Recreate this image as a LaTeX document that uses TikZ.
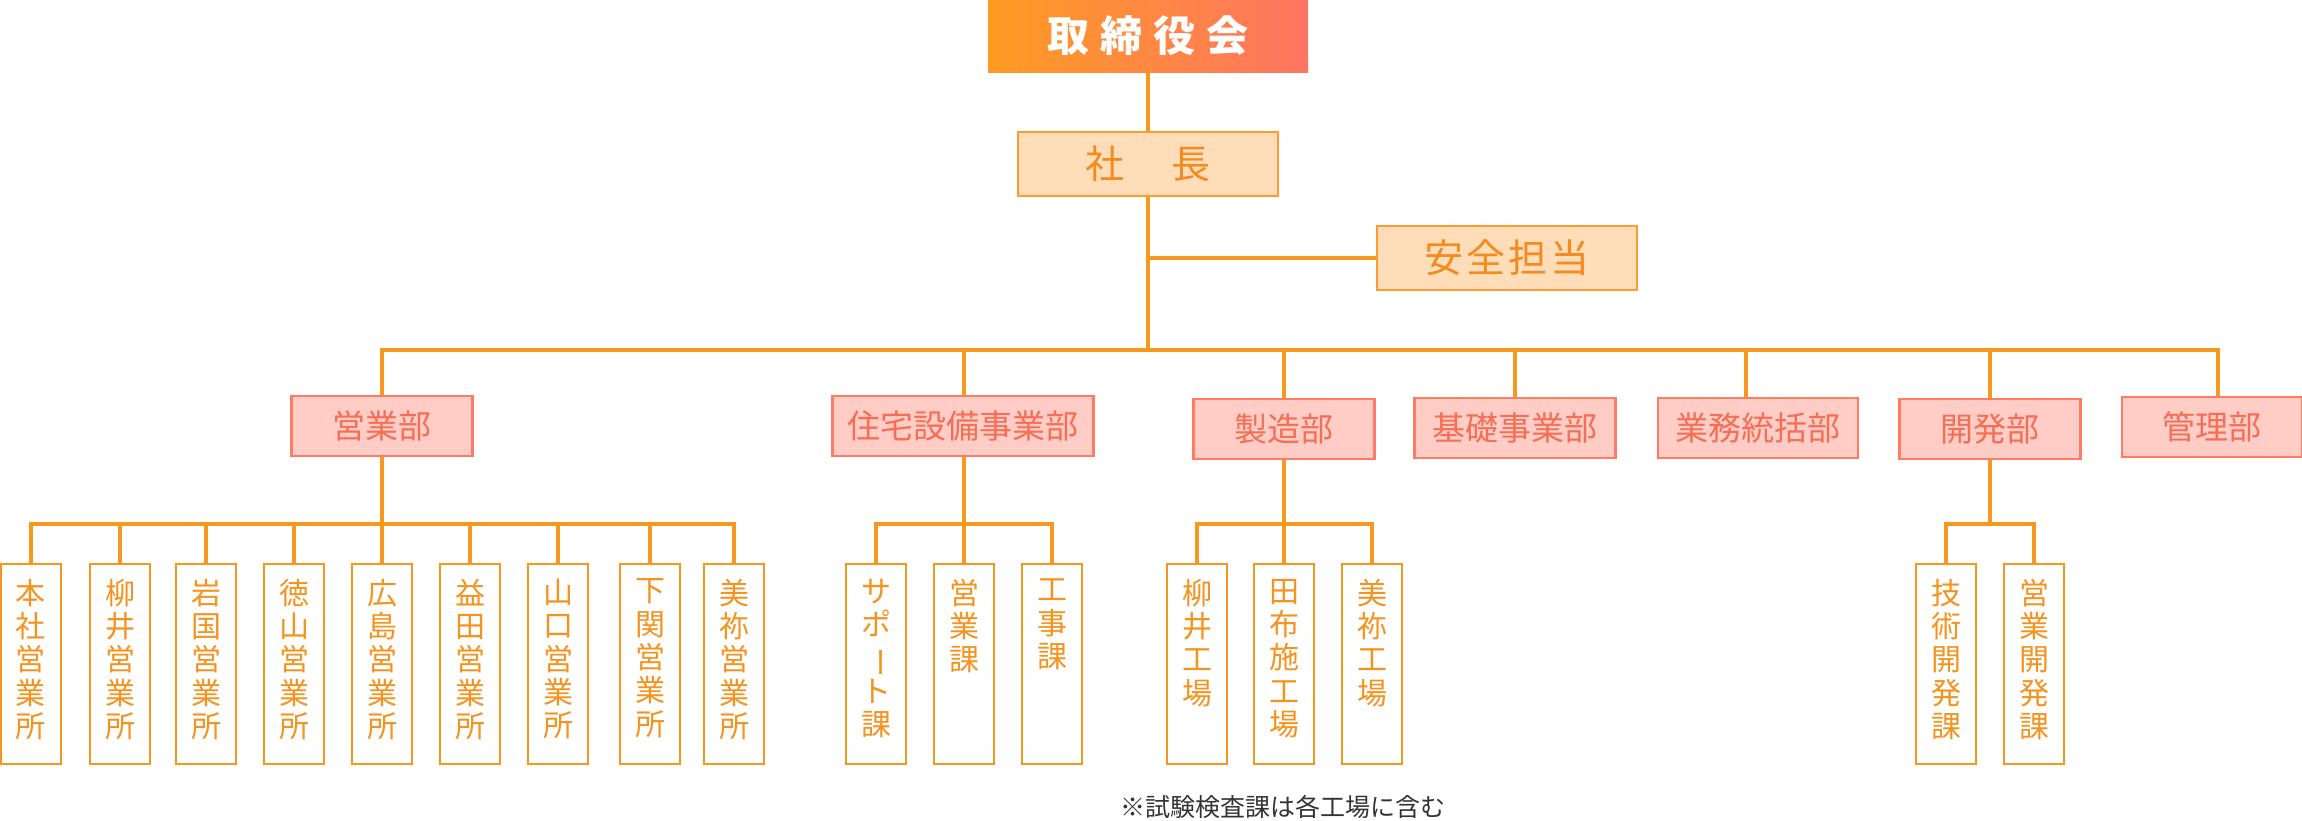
\documentclass[tikz,border=0pt]{standalone}
\usepackage{fontspec}
\setmainfont{Noto Sans CJK JP}
\definecolor{lineor}{HTML}{F7991F}
\definecolor{peach}{HTML}{FFDDB8}
\definecolor{peachbd}{HTML}{FF9A2E}
\definecolor{peachtx}{HTML}{F58A1E}
\definecolor{pinkf}{HTML}{FFCDC5}
\definecolor{pinkbd}{HTML}{FF7B63}
\definecolor{pinktx}{HTML}{F56E55}
\definecolor{subbd}{HTML}{F7961F}
\definecolor{subtx}{HTML}{F5931E}
\definecolor{gl}{HTML}{FF9B22}
\definecolor{gr}{HTML}{FF7562}
\definecolor{notec}{HTML}{333333}
\newcommand\vtxt[1]{\parbox[c][170pt][t]{44pt}{\centering #1}}
\newcommand\vbar{\rotatebox[origin=c]{-90}{ー}}
\begin{document}
\begin{tikzpicture}[x=1pt,y=-1pt,
  link/.style={draw=lineor, line width=3.5pt, line join=miter},
  execbox/.style={rectangle, left color=gl, right color=gr, minimum width=320pt, minimum height=72pt, inner sep=0pt, text=white, font=\fontsize{42}{46}\selectfont\bfseries},
  peachbox/.style={rectangle, draw=peachbd, line width=2.5pt, fill=peach, minimum width=260pt, minimum height=64pt, inner sep=0pt, text=peachtx, font=\fontsize{39}{42}\selectfont},
  deptbox/.style={rectangle, draw=pinkbd, line width=2.5pt, fill=pinkf, minimum height=60pt, inner sep=0pt, text=pinktx, font=\fontsize{33}{36}\selectfont},
  subbox/.style={rectangle, draw=subbd, line width=2.5pt, fill=white, minimum width=60pt, minimum height=200pt, inner sep=0pt, text=subtx, font=\fontsize{30}{33.3}\selectfont},
  notetxt/.style={inner sep=0pt, text=notec, font=\fontsize{25}{28}\selectfont}]
\useasboundingbox (0,0) rectangle (2302,820);

% top
\node[execbox] (exec) at (1148,36) {取\hspace{11pt}締\hspace{11pt}役\hspace{11pt}会};
\node[peachbox] (pres) at (1148,164) {社\hspace{48pt}長};
\node[peachbox] (safe) at (1507,258) {安\hspace{3pt}全\hspace{3pt}担\hspace{3pt}当};

% departments
\node[deptbox, minimum width=181pt] (d1) at (382,426) {営業部};
\node[deptbox, minimum width=261pt] (d2) at (963,426) {住宅設備事業部};
\node[deptbox, minimum width=181pt] (d3) at (1284,429) {製造部};
\node[deptbox, minimum width=201pt] (d4) at (1515,428) {基礎事業部};
\node[deptbox, minimum width=200pt] (d5) at (1758,428) {業務統括部};
\node[deptbox, minimum width=181pt] (d6) at (1990,429) {開発部};
\node[deptbox, minimum width=180pt] (d7) at (2212,427) {管理部};

% sales offices
\node[subbox] (s1) at (31,664) {\vtxt{本\\社\\営\\業\\所}};
\node[subbox] (s2) at (120,664) {\vtxt{柳\\井\\営\\業\\所}};
\node[subbox] (s3) at (206,664) {\vtxt{岩\\国\\営\\業\\所}};
\node[subbox] (s4) at (294,664) {\vtxt{徳\\山\\営\\業\\所}};
\node[subbox] (s5) at (382,664) {\vtxt{広\\島\\営\\業\\所}};
\node[subbox] (s6) at (470,664) {\vtxt{益\\田\\営\\業\\所}};
\node[subbox] (s7) at (558,664) {\vtxt{山\\口\\営\\業\\所}};
\node[subbox] (s8) at (650,664) {\vtxt{下\\関\\営\\業\\所}};
\node[subbox] (s9) at (734,664) {\vtxt{美\\祢\\営\\業\\所}};

% housing equipment
\node[subbox] (h1) at (876,664) {\vtxt{サ\\ポ\\\vbar\\ト\\課}};
\node[subbox] (h2) at (964,664) {\vtxt{営\\業\\課}};
\node[subbox] (h3) at (1052,664) {\vtxt{工\\事\\課}};

% factories
\node[subbox] (f1) at (1197,664) {\vtxt{柳\\井\\工\\場}};
\node[subbox] (f2) at (1284,664) {\vtxt{田\\布\\施\\工\\場}};
\node[subbox] (f3) at (1372,664) {\vtxt{美\\祢\\工\\場}};

% development
\node[subbox] (v1) at (1946,664) {\vtxt{技\\術\\開\\発\\課}};
\node[subbox] (v2) at (2034,664) {\vtxt{営\\業\\開\\発\\課}};

\node[notetxt] (note) at (1283,807) {※試験検査課は各工場に含む};

% connectors: top
\draw[link] (exec.south) -- (pres.north);
\coordinate (busC) at (1148,350);
\coordinate (safeJ) at (1148,258);
\draw[link] (pres.south) -- (busC);
\draw[link] (safeJ) -- (safe.west);

% main bus
\coordinate (j2) at (964,350);
\coordinate (j3) at (1284,350);
\coordinate (j4) at (1515,350);
\coordinate (j5) at (1746,350);
\coordinate (j6) at (1990,350);
\coordinate (j7) at (2218,350);
\draw[link] (d1.north) |- (j7) -- (j7 |- d7.north);
\foreach \j/\d in {j2/d2,j3/d3,j4/d4,j5/d5,j6/d6} \draw[link] (\j) -- (\j |- \d.north);

% sales sub bus
\coordinate (sb) at (0,524);
\draw[link] (s1.north) |- (s9.north |- sb) -- (s9.north);
\draw[link] (d1.south) -- (d1.south |- sb);
\foreach \s in {s2,s3,s4,s5,s6,s7,s8} \draw[link] (\s.north) -- (\s.north |- sb);

% housing sub bus
\draw[link] (h1.north) |- (h3.north |- sb) -- (h3.north);
\draw[link] (d2.south -| h2.north) -- (h2.north);

% factory sub bus
\draw[link] (f1.north) |- (f3.north |- sb) -- (f3.north);
\draw[link] (d3.south) -- (f2.north);

% development sub bus
\draw[link] (v1.north) |- (v2.north |- sb) -- (v2.north);
\draw[link] (d6.south) -- (d6.south |- sb);
\end{tikzpicture}
\end{document}
